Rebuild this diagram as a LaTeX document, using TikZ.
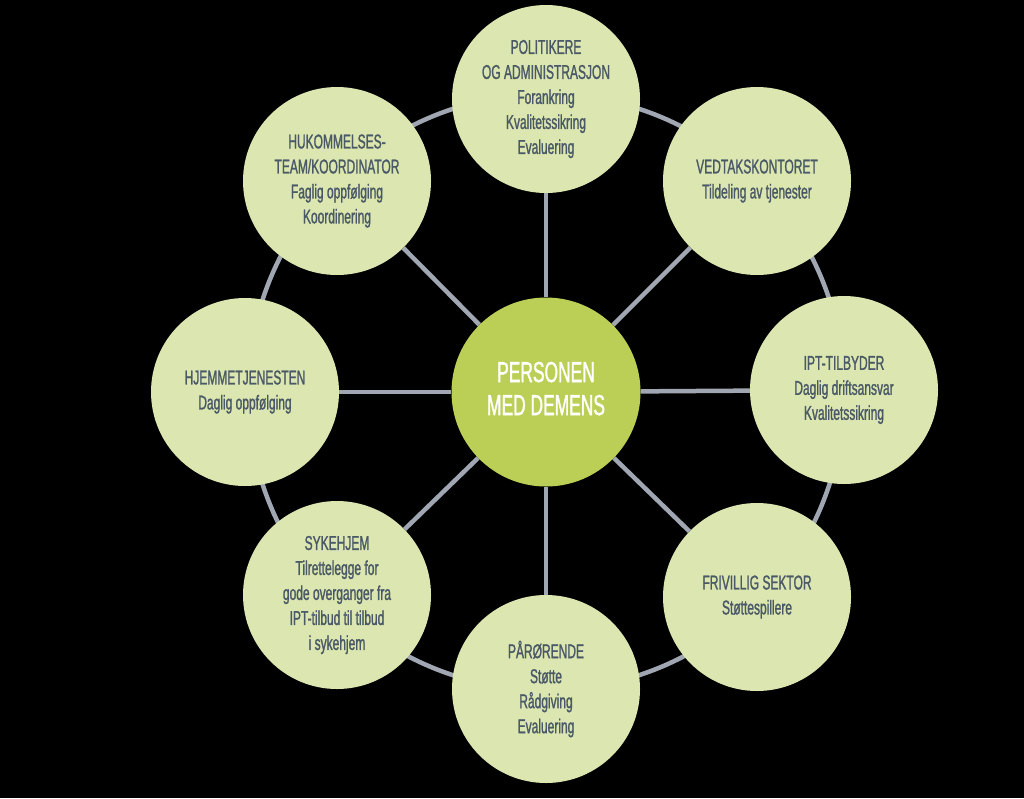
\documentclass[tikz,border=0pt]{standalone}
\usepackage{fontspec}
\setmainfont{Liberation Sans}[FakeStretch=0.6,FakeBold=1.2]
\usetikzlibrary{backgrounds}
\definecolor{DemensRing}{RGB}{160,166,178}
\definecolor{DemensOuter}{RGB}{220,230,176}
\definecolor{DemensHub}{RGB}{187,207,86}
\definecolor{DemensText}{RGB}{74,89,102}

\begin{document}
\begin{tikzpicture}[x=1pt,y=-1pt,
  actor/.style={circle,fill=DemensOuter,minimum size=188pt,inner sep=0pt,align=center,text=DemensText,font=\fontsize{20}{25}\selectfont},
  hub/.style={circle,fill=DemensHub,minimum size=189pt,inner sep=0pt,align=center,text=white,font=\fontsize{29}{33}\selectfont},
  link/.style={DemensRing,line width=4.5pt}]
\useasboundingbox (0,0) rectangle (1024,798);
\node[hub](hub) at (546,392) {\raisebox{8pt}{\begin{tabular}{@{}c@{}}PERSONEN\\[0pt]MED DEMENS\end{tabular}}};
\node[actor](pol) at (546,99) {POLITIKERE\\OG ADMINISTRASJON\\Forankring\\Kvalitetssikring\\Evaluering};
\node[actor](ved) at (757,181) {VEDTAKSKONTORET\\Tildeling av tjenester};
\node[actor](ipt) at (844,390) {IPT-TILBYDER\\Daglig driftsansvar\\Kvalitetssikring};
\node[actor](fri) at (757,597) {FRIVILLIG SEKTOR\\Støttespillere};
\node[actor](par) at (546,689) {PÅRØRENDE\\Støtte\\Rådgiving\\Evaluering};
\node[actor](syk) at (337,595) {SYKEHJEM\\Tilrettelegge for\\gode overganger fra\\IPT-tilbud til tilbud\\i sykehjem};
\node[actor](hje) at (245,392) {HJEMMETJENESTEN\\Daglig oppfølging};
\node[actor](huk) at (337,181) {HUKOMMELSES-\\TEAM/KOORDINATOR\\Faglig oppfølging\\Koordinering};
\begin{pgfonlayer}{background}
\fill[black] (0,0) rectangle (1024,798);
\draw[link] (hub.center) circle[radius=298];
\foreach \n in {pol,ved,ipt,fri,par,syk,hje,huk}
   \draw[link] (hub) -- (\n);
\end{pgfonlayer}
\end{tikzpicture}
\end{document}
